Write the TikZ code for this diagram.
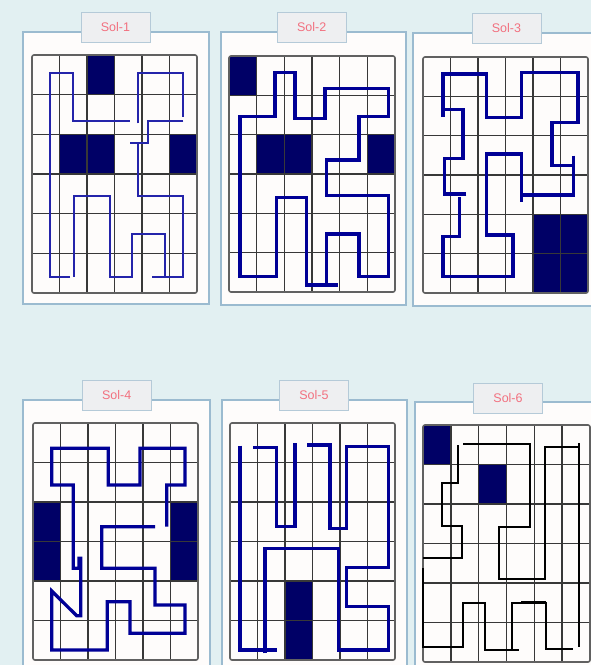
\documentclass[tikz,border=0pt]{standalone}
\usepackage{fontspec}
\setmainfont{Liberation Sans}
\definecolor{bgc}{HTML}{E2F0F2}
\definecolor{framec}{HTML}{9BBBD0}
\definecolor{panelc}{HTML}{FEFCFB}
\definecolor{tabfill}{HTML}{EEEFF1}
\definecolor{tabline}{HTML}{B5CAD8}
\definecolor{tabtext}{HTML}{F2707F}
\definecolor{navyc}{HTML}{000066}
\definecolor{thinblue}{HTML}{2424AA}
\definecolor{thickblue}{HTML}{000096}
\newcommand\gridpanel[5]{%
  \foreach \c/\r in {#5} {%
    \fill[navyc] ({#1+(#3-#1)*\c/6},{#2+(#4-#2)*\r/6}) rectangle ({#1+(#3-#1)*(\c+1)/6},{#2+(#4-#2)*(\r+1)/6});}
  \foreach \i in {1,...,5} {%
    \draw[gridln] ({#1+(#3-#1)*\i/6},#2) -- ({#1+(#3-#1)*\i/6},#4);
    \draw[gridln] (#1,{#2+(#4-#2)*\i/6}) -- (#3,{#2+(#4-#2)*\i/6});}
  \draw[gridbox] (#1,#2) rectangle (#3,#4);}
\begin{document}
\begin{tikzpicture}[x=1pt,y=-1pt,
  frame/.style={draw=framec, fill=panelc, line width=1.8pt},
  tab/.style={draw=tabline, fill=tabfill, line width=1pt, minimum width=69pt, minimum height=30pt, inner sep=0pt,
     text=tabtext, font=\fontsize{12.5}{12.5}\selectfont},
  gridln/.style={draw=black!78, line width=1.5pt},
  gridbox/.style={draw=black!62, line width=1.6pt, rounded corners=2pt},
  pthin/.style={draw=thinblue, line width=1.9pt},
  pthick/.style={draw=thickblue, line width=3.3pt},
  pblack/.style={draw=black, line width=1.8pt}]
\useasboundingbox (0,0) rectangle (591,665);
\clip (0,0) rectangle (591,665);
\fill[bgc] (0,0) rectangle (591,665);

% frames
\draw[frame] (23,32) rectangle (209,304);
\draw[frame] (221,32) rectangle (406,305);
\draw[frame] (413,33) rectangle (605,306);
\draw[frame] (23,400) rectangle (210,690);
\draw[frame] (222,400) rectangle (407,690);
\draw[frame] (415,402) rectangle (605,690);

% tabs
\node[tab] (t1) at (115.5,27.5) {Sol-1};
\node[tab] (t2) at (311.7,27.5) {Sol-2};
\node[tab] (t3) at (506.5,28.5) {Sol-3};
\node[tab] (t4) at (116.7,395) {Sol-4};
\node[tab] (t5) at (314,395) {Sol-5};
\node[tab] (t6) at (508,398) {Sol-6};

% grids
\gridpanel{32}{55}{197}{293}{2/0,1/2,2/2,5/2}
\gridpanel{229}{56}{395}{292}{0/0,1/2,2/2,5/2}
\gridpanel{423}{57}{588}{293}{4/4,5/4,4/5,5/5}
\gridpanel{33}{423}{198}{660}{0/2,0/3,5/2,5/3}
\gridpanel{230}{423}{395}{660}{2/4,2/5}
\gridpanel{423}{425}{590}{662}{0/0,2/1}

% Sol-1
\draw[pthin] (70,276.7) -- (50,276.7) -- (50,72.7) -- (73.3,72.7) -- (73.3,121) -- (130,121);
\draw[pthin] (138.3,123.3) -- (138.3,72.7) -- (183.3,72.7) -- (183.3,116.7);
\draw[pthin] (183.3,121) -- (148.3,121) -- (148.3,142.7) -- (130,142.7);
\draw[pthin] (138.3,142.7) -- (138.3,195.7) -- (183.3,195.7) -- (183.3,276.7) -- (151.7,276.7);
\draw[pthin] (165,276.7) -- (165,234) -- (131.7,234) -- (131.7,276.7) -- (110,276.7) -- (110,195.7) -- (74.3,195.7) -- (74.3,276.7);

% Sol-2
\draw[pthick] (306.7,284) -- (306.7,197.7) -- (276.7,197.7) -- (276.7,276.7) -- (240,276.7) -- (240,116.7)
  -- (275,116.7) -- (275,72.7) -- (295,72.7) -- (295,118.3) -- (325,118.3) -- (325,88.3) -- (388.3,88.3)
  -- (388.3,116.7) -- (359,116.7) -- (359,160) -- (326.7,160) -- (326.7,195.7) -- (388.3,195.7)
  -- (388.3,276.7) -- (359,276.7) -- (359,234) -- (326.7,234) -- (326.7,285);
\draw[pthick] (305,285) -- (338.3,285);

% Sol-3
\draw[pthick] (443,116.7) -- (443,74) -- (486.3,74) -- (486.3,117.3) -- (521.3,117.3) -- (521.3,72.3)
  -- (578,72.3) -- (578,122.7) -- (552,122.7) -- (552,165.7) -- (573.7,165.7);
\draw[pthick] (573.7,155.7) -- (573.7,195) -- (521.3,195);
\draw[pthick] (521.3,201.7) -- (521.3,154) -- (486.3,154) -- (486.3,235) -- (513,235) -- (513,276.7)
  -- (443,276.7) -- (443,236.7) -- (459.7,236.7) -- (459.7,196.7);
\draw[pthick] (466.3,194) -- (444.7,194) -- (444.7,158.3) -- (463,158.3) -- (463,109.3) -- (444.7,109.3);

% Sol-4
\draw[pthick] (166.7,526.7) -- (166.7,485) -- (185,485) -- (185,448.3) -- (140,448.3) -- (140,485)
  -- (108.3,485) -- (108.3,448.3) -- (51.7,448.3) -- (51.7,485) -- (73.3,485) -- (73.3,568.3)
  -- (79,568.3) -- (79,558.3) -- (80.7,558.3) -- (80.7,615.7) -- (76.7,615.7) -- (51.7,591) -- (51.7,650)
  -- (107.3,650) -- (107.3,601.7) -- (130,601.7) -- (130,633.3) -- (185,633.3) -- (185,605) -- (155,605)
  -- (155,568.3) -- (101.7,568.3) -- (101.7,526.7) -- (155,526.7);

% Sol-5
\draw[pthick] (240,445.7) -- (240,650) -- (276.7,650);
\draw[pthick] (265,653.3) -- (265,548.3) -- (338.3,548.3) -- (338.3,650) -- (388.3,650) -- (388.3,606.7)
  -- (346.7,606.7) -- (346.7,567.7) -- (388.3,567.7) -- (388.3,446.7) -- (346.7,446.7) -- (346.7,528.3)
  -- (330,528.3) -- (330,445) -- (306.7,445);
\draw[pthick] (295,443.3) -- (295,526.7) -- (276.7,526.7) -- (276.7,447.7) -- (253.3,447.7);

% Sol-6
\draw[pblack] (463,444.3) -- (529.7,444.3) -- (529.7,526.7) -- (498.7,526.7) -- (498.7,579) -- (545.3,579)
  -- (545.3,446.7) -- (578.7,446.7);
\draw[pblack] (578.7,443.3) -- (578.7,646.7);
\draw[pblack] (458,445) -- (458,483.3) -- (442.3,483.3) -- (442.3,526) -- (462.3,526) -- (462.3,557.7) -- (423,557.7);
\draw[pblack] (423,568.3) -- (423,646.7) -- (463,646.7) -- (463,603.3) -- (484.7,603.3) -- (484.7,650) -- (519,650);
\draw[pblack] (512,650) -- (512,602.7) -- (546.3,602.7) -- (546.3,649) -- (573,649);
\draw[draw=black, line width=3pt] (521.3,602.7) -- (546.3,602.7);
\end{tikzpicture}
\end{document}
